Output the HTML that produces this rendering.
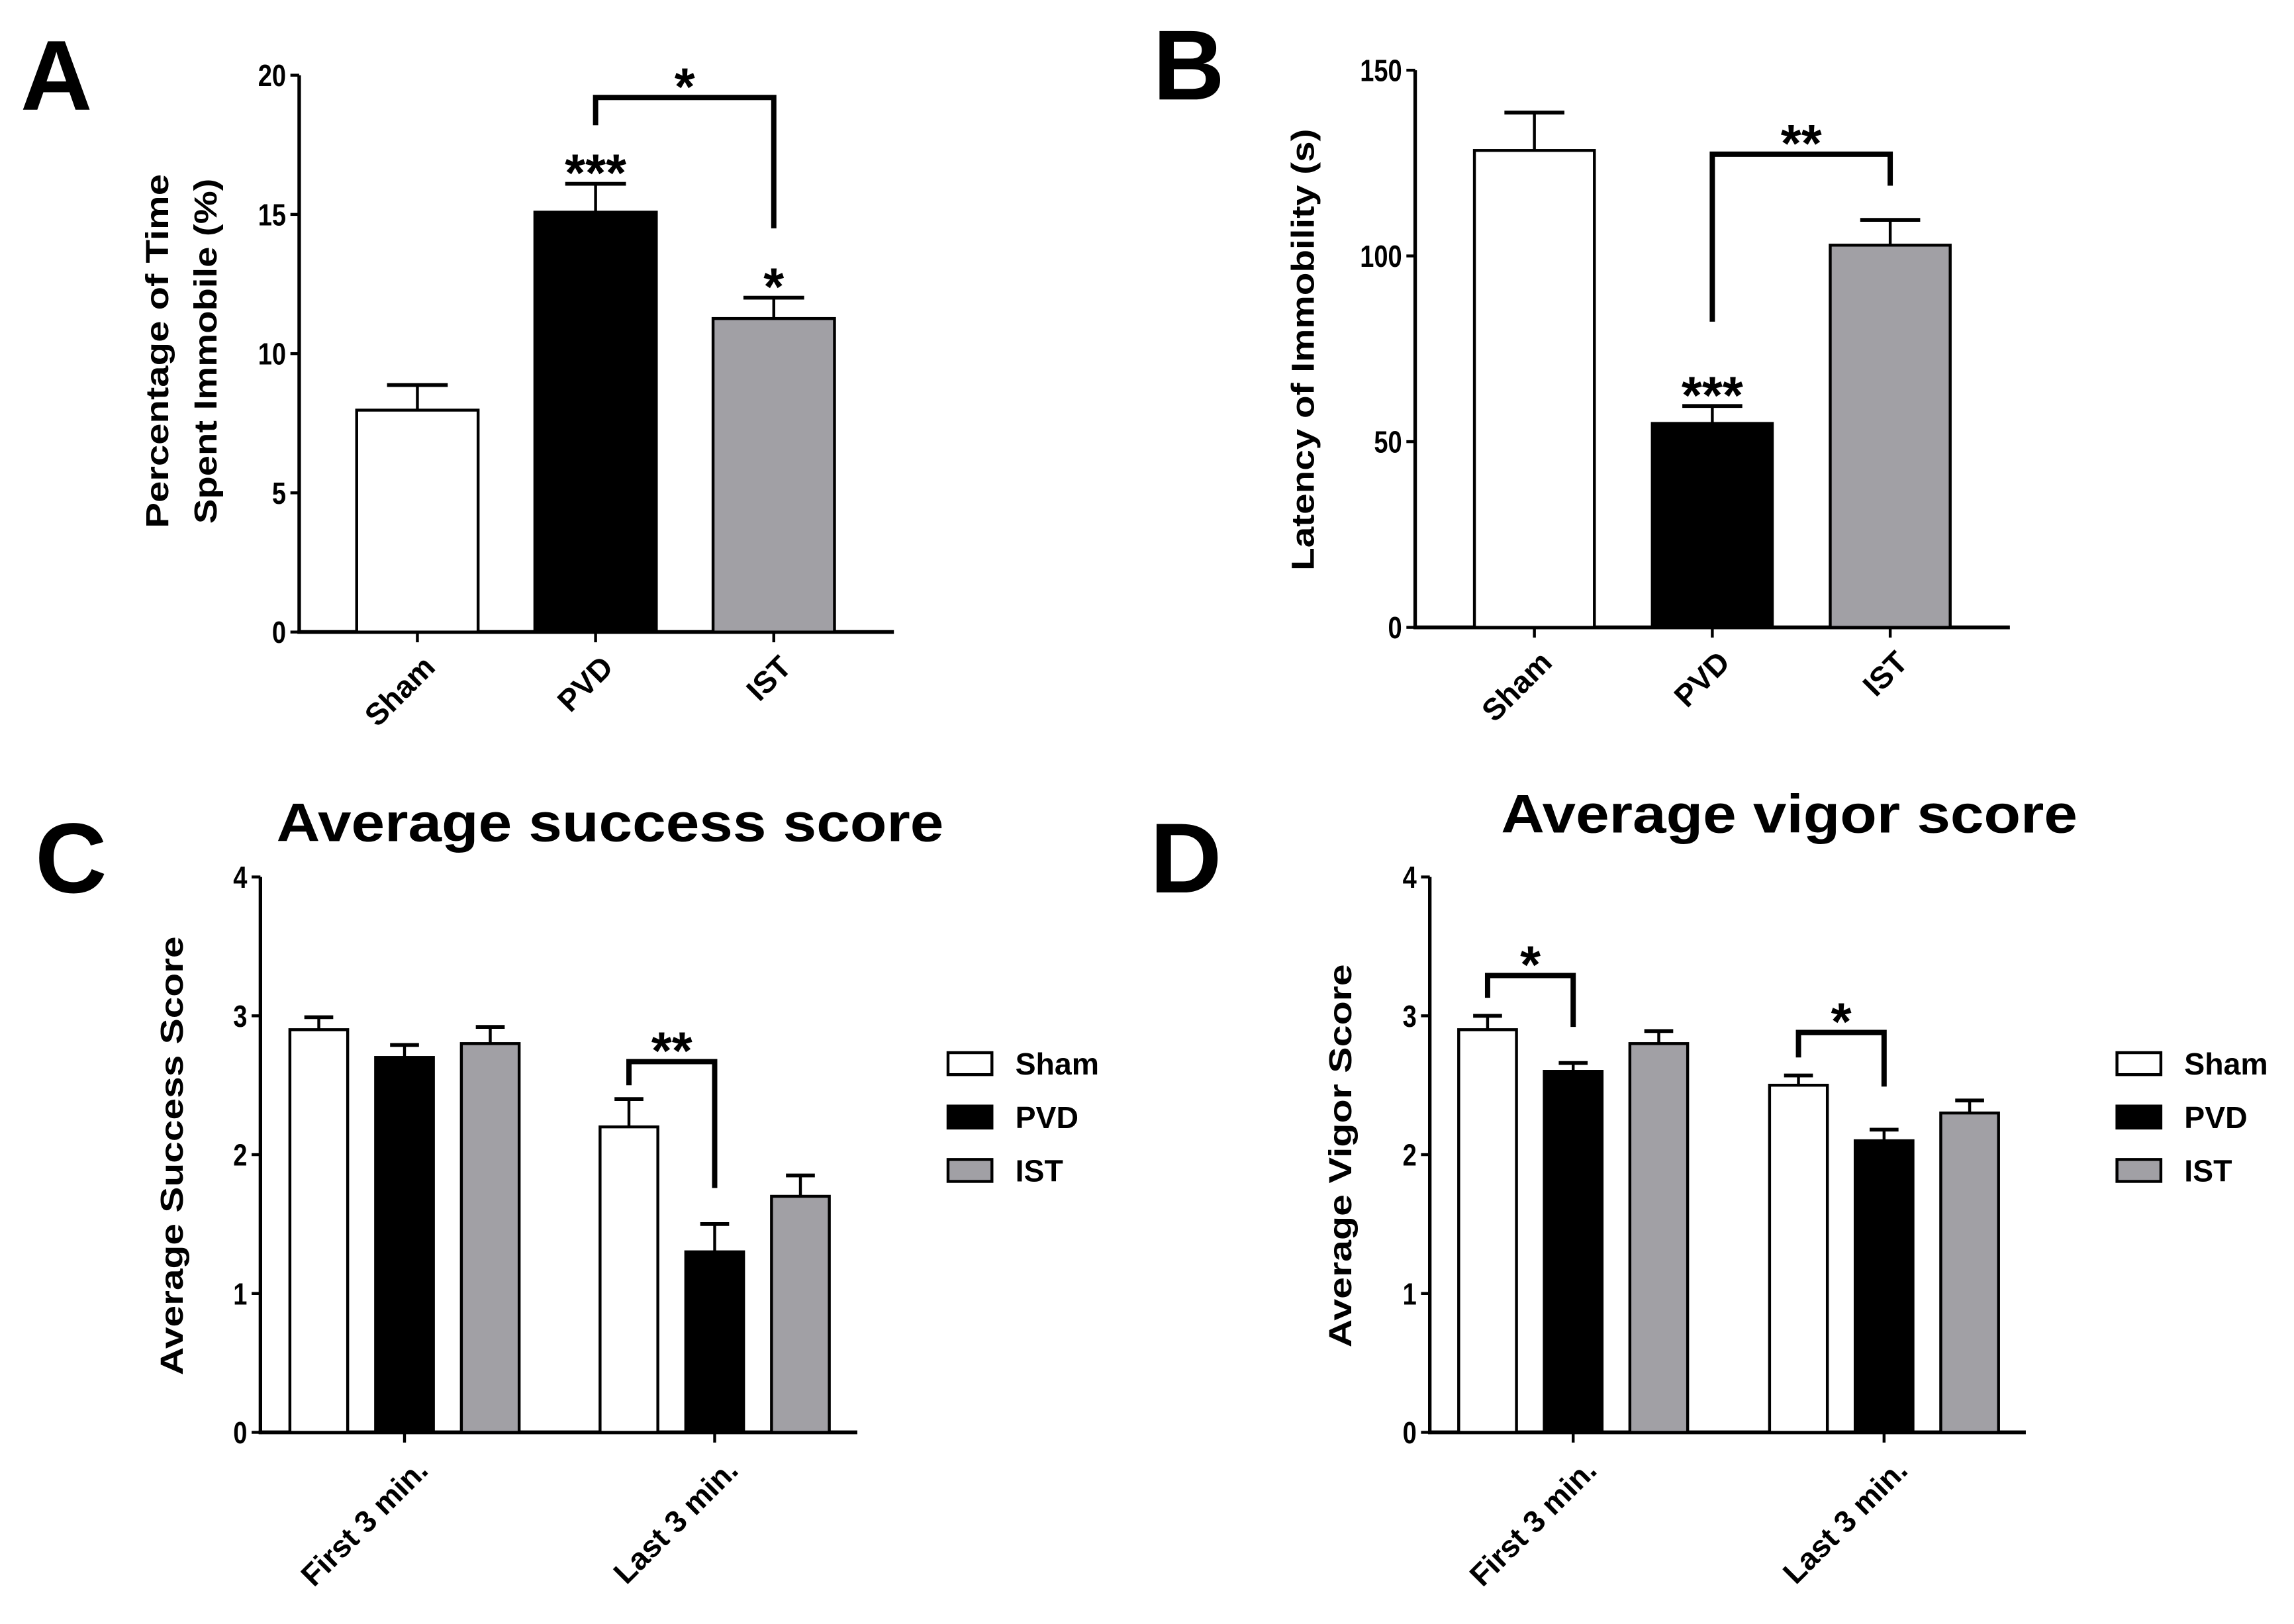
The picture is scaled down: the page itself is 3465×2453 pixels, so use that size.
<!DOCTYPE html>
<html><head><meta charset="utf-8"><style>
html,body{margin:0;padding:0;background:#fff;}
svg{display:block;font-family:"Liberation Sans",Arial,sans-serif;font-weight:bold;}
</style></head><body>
<svg id="fig" xmlns="http://www.w3.org/2000/svg" width="3465" height="2453" viewBox="0 0 1568 1110" preserveAspectRatio="none">
<rect x="0" y="0" width="1568" height="1110" fill="#fff"/>
</svg>
<script>
// ---- data ----
const seriesNames = ["Sham", "PVD", "IST"];
const seriesFill = ["#ffffff", "#000000", "#a1a0a5"];
// Panel A
const aCats = ["Sham", "PVD", "IST"];
const aMeans = [7.97, 15.08, 11.26];
const aErrs = [8.87, 16.1, 12.01];
const aTicks = [0, 5, 10, 15, 20];
const aStars = ["", "***", "*"];
const aBracket = [1, 2, 19.2, 18.2, 14.5];
const aBracketLabel = "*";
// Panel B
const bCats = ["Sham", "PVD", "IST"];
const bMeans = [128.4, 54.9, 102.9];
const bErrs = [138.6, 59.6, 109.7];
const bTicks = [0, 50, 100, 150];
const bStars = ["", "***", ""];
const bBracket = [1, 2, 127.4, 82.3, 118.9];
const bBracketLabel = "**";
// Panel C
const cGroups = ["First 3 min.", "Last 3 min."];
const cSham = [2.9, 2.2];
const cPVD = [2.7, 1.3];
const cIST = [2.8, 1.7];
const cShamErr = [2.99, 2.4];
const cPVDErr = [2.79, 1.5];
const cISTErr = [2.92, 1.85];
const cTicks = [0, 1, 2, 3, 4];
const cBrackets = [[1, 0, 1, 2.67, 2.5, 1.76]];
const cBracketLabels = ["**"];
// Panel D
const dGroups = ["First 3 min.", "Last 3 min."];
const dSham = [2.9, 2.5];
const dPVD = [2.6, 2.1];
const dIST = [2.8, 2.3];
const dShamErr = [3.0, 2.57];
const dPVDErr = [2.66, 2.18];
const dISTErr = [2.89, 2.39];
const dTicks = [0, 1, 2, 3, 4];
const dBrackets = [[0, 0, 1, 3.29, 3.13, 2.92], [1, 0, 1, 2.88, 2.70, 2.49]];
const dBracketLabels = ["*", "*"];

// ---- drawing ----
const NS = "http://www.w3.org/2000/svg";
const svg = document.getElementById("fig");
function mk(tag, attrs, parent) {
  const e = document.createElementNS(NS, tag);
  for (const k in attrs) e.setAttribute(k, attrs[k]);
  (parent || svg).appendChild(e);
  return e;
}
function line(p, x1, y1, x2, y2, w, name) {
  const el = mk("line", {x1: x1, y1: y1, x2: x2, y2: y2, stroke: "#000", "stroke-width": w}, p);
  
  
  return el;
}
function txt(p, s, x, y, size, anchor, name, extra) {
  const el = mk("text", Object.assign({x: x, y: y, "font-size": size, "text-anchor": anchor, fill: "#000"}, extra || {}), p);
  el.textContent = s;
  
  
  return el;
}
function axes(p, cfg, ticks) {
  const ys = v => cfg.y0 - (v / cfg.max) * (cfg.y0 - cfg.yTop);
  line(p, cfg.ax, cfg.y0 + 1.2, cfg.ax, cfg.yTop, 2.4, "y-axis-line");
  line(p, cfg.ax - 1.2, cfg.y0, cfg.xEnd, cfg.y0, 2.6, "x-axis-line");
  ticks.forEach(t => {
    line(p, cfg.ax - 6, ys(t), cfg.ax, ys(t), 2, "y-tick");
    const bx = cfg.ax - 9, by = ys(t) + 7.5;
    const lb = txt(p, String(t), bx, by, 21, "end", "y-tick-label");
    lb.setAttribute("transform", "translate(" + bx + "," + by + ") scale(0.82,1) translate(" + (-bx) + "," + (-by) + ")");
  });
  return ys;
}
function bar(p, cx, w, v, e, fill, ys, y0, name) {
  const top = ys(v);
  const r = mk("rect", {x: cx - w / 2, y: top, width: w, height: y0 - top, fill: fill, stroke: "#000", "stroke-width": 2}, p);
  
  
  line(p, cx, top, cx, ys(e), 2, "error-bar");
  line(p, cx - w / 4, ys(e), cx + w / 4, ys(e), 2.6, "error-cap");
}
function bracket(p, xl, xr, ys, yv, dl, dr, label) {
  const pl = mk("polyline", {points: xl + "," + ys(dl) + " " + xl + "," + ys(yv) + " " + xr + "," + ys(yv) + " " + xr + "," + ys(dr), fill: "none", stroke: "#000", "stroke-width": 3.6}, p);
  
  
  star(p, (xl + xr) / 2, ys(yv) - 14, label);
}
function star(p, x, yc, s) {
  txt(p, s, x, yc + 19, 36, "middle", "significance-stars");
}
function catLabel(p, s, x, y) {
  txt(p, s, 0, 0, 21, "end", "x-category-label", {transform: "translate(" + x + "," + y + ") rotate(-45)", dy: "0.35em"});
}
function panelLetter(s, x, y, name) {
  txt(svg, s, x, y, 68, "start", name);
}
function yTitle(p, lines, cx, cy, lens) {
  lines.forEach((s, i) => {
    const x = cx + (i - (lines.length - 1) / 2) * 33 + 8;
    txt(p, s, 0, 0, 22, "middle", "y-axis-title", {transform: "translate(" + x + "," + cy + ") rotate(-90)", textLength: lens[i], lengthAdjust: "spacingAndGlyphs"});
  });
}

function simplePanel(name, cfg, cats, means, errs, ticks, stars, br, brLabel) {
  const g = mk("g", {});
  
  
  const ys = axes(g, cfg, ticks);
  const xc = i => cfg.c0 + i * cfg.step;
  cats.forEach((c, i) => {
    bar(g, xc(i), cfg.bw, means[i], errs[i], seriesFill[i], ys, cfg.y0, "bar-" + c.toLowerCase());
    line(g, xc(i), cfg.y0, xc(i), cfg.y0 + 7, 2, "x-tick");
    catLabel(g, c, xc(i) + 8, cfg.y0 + 20);
    if (stars[i]) star(g, xc(i), ys(errs[i]) - 14, stars[i]);
  });
  bracket(g, xc(br[0]), xc(br[1]), ys, br[2], br[3], br[4], brLabel);
  return g;
}
const gA = simplePanel("panel-a", {ax: 204.5, y0: 432, yTop: 51.4, max: 20, xEnd: 611, c0: 285.3, step: 121.8, bw: 83}, aCats, aMeans, aErrs, aTicks, aStars, aBracket, aBracketLabel);
yTitle(gA, ["Percentage of Time", "Spent Immobile (%)"], 123.5, 240, [242, 236]);
const gB = simplePanel("panel-b", {ax: 967.3, y0: 428.8, yTop: 48, max: 150, xEnd: 1373.8, c0: 1048.8, step: 121.6, bw: 82}, bCats, bMeans, bErrs, bTicks, bStars, bBracket, bBracketLabel);
yTitle(gB, ["Latency of Immobility (s)"], 890, 239, [302]);
panelLetter("A", 14, 75, "panel-letter-a");
panelLetter("B", 788, 68, "panel-letter-b");

function groupedPanel(name, cfg, groups, vals, errs, ticks, brs, brLabels, title, titleLen) {
  const g = mk("g", {});
  
  
  const ys = axes(g, cfg, ticks);
  const gx = i => cfg.g0 + i * cfg.gstep;
  const bx = (gi, si) => gx(gi) + (si - 1) * cfg.sstep;
  groups.forEach((grp, gi) => {
    vals.forEach((sv, si) => {
      bar(g, bx(gi, si), cfg.bw, sv[gi], errs[si][gi], seriesFill[si], ys, cfg.y0, "bar-" + seriesNames[si].toLowerCase() + "-group" + (gi + 1));
    });
    line(g, gx(gi), cfg.y0, gx(gi), cfg.y0 + 7, 2, "x-tick");
    catLabel(g, grp, gx(gi) + 12, cfg.y0 + 22);
  });
  brs.forEach((b, k) => bracket(g, bx(b[0], b[1]), bx(b[0], b[2]), ys, b[3], b[4], b[5], brLabels[k]));
  txt(g, title, cfg.tx, cfg.ty, 37, "middle", "chart-title", {textLength: titleLen, lengthAdjust: "spacingAndGlyphs"});
  seriesNames.forEach((s, i) => {
    const yc = cfg.ly0 + i * 36.5;
    const r = mk("rect", {x: cfg.lx, y: yc - 7.5, width: 30, height: 15, fill: seriesFill[i], stroke: "#000", "stroke-width": 2}, g);
    
    
    txt(g, s, cfg.lx + 46, yc + 7.5, 21, "start", "legend-label-" + s.toLowerCase());
  });
  return g;
}
const gC = groupedPanel("panel-c", {ax: 178, y0: 979, yTop: 599.4, max: 4, xEnd: 586, g0: 276.5, gstep: 212, sstep: 58.6, bw: 39.5, tx: 417, ty: 575, lx: 648, ly0: 727},
  cGroups, [cSham, cPVD, cIST], [cShamErr, cPVDErr, cISTErr], cTicks, cBrackets, cBracketLabels, "Average success score", 456);
yTitle(gC, ["Average Success Score"], 117, 790, [300]);
const gD = groupedPanel("panel-d", {ax: 977.3, y0: 979, yTop: 599.4, max: 4, xEnd: 1384.7, g0: 1075.3, gstep: 212.5, sstep: 58.5, bw: 39.5, tx: 1223, ty: 569, lx: 1447, ly0: 727},
  dGroups, [dSham, dPVD, dIST], [dShamErr, dPVDErr, dISTErr], dTicks, dBrackets, dBracketLabels, "Average vigor score", 394);
yTitle(gD, ["Average Vigor Score"], 915.5, 790, [262]);
panelLetter("C", 24, 610, "panel-letter-c");
panelLetter("D", 786, 610, "panel-letter-d");
</script>
</body></html>
